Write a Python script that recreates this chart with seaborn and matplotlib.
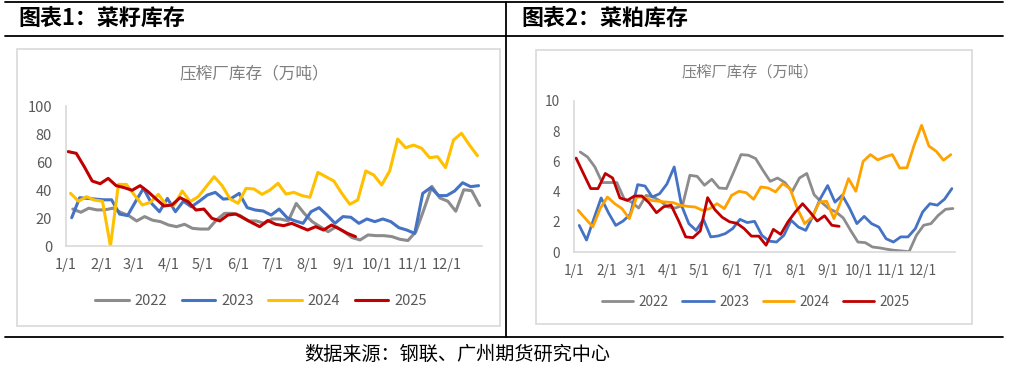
import numpy as np
import pandas as pd
import seaborn as sns
import matplotlib
matplotlib.use("Agg")
import matplotlib.pyplot as plt
from matplotlib.lines import Line2D
from matplotlib.patches import Rectangle

# weekly data (Friday)
years = ["2022", "2023", "2024", "2025"]
first_friday = {"2022": "2022-01-07", "2023": "2023-01-06",
                "2024": "2024-01-05", "2025": "2025-01-03"}

# chart 1: rapeseed stocks at crushers (10k t)
seed_2022 = [26.4, 24.1, 27, 25.8, 25.8, 27, 24, 21.7, 17.9, 21, 18.4, 17.4, 15, 13.8, 15.5,
             12.6, 12.1, 12.1, 18.6, 23.3, 23.3, 21.7, 17.9, 17.9, 16.2,
             19.3, 19.3, 17.9, 30.4, 23.3, 17.4, 13.8, 10.2, 13.8, 10.2, 6, 4.3, 7.9, 7.4,
             7.4, 6.7, 4.8, 3.9, 10.2, 26, 42.6, 34.3, 32, 24.8, 40.2, 39.5, 28.9]
seed_2023 = [20.2, 34.5, 34, 33.5, 33, 33, 22.8, 21.7, 31.7, 41.2, 30.5, 24.5, 34, 24.5, 32,
             28, 32, 36.4, 38.3, 33.5, 34, 37.6, 27.4, 25.7, 25,
             22.1, 26.4, 20.2, 17.9, 16.2, 24.5, 27.4, 22.1, 16.2, 21, 20.5, 16.2, 19.3, 17.4,
             19.3, 17.4, 13.1, 11.4, 9, 37.6, 41.7, 36, 36, 39.3, 45.2, 42.4, 43.1]
seed_2024 = [37.6, 32, 35.2, 32.8, 32, 0, 44, 44, 36.4, 29.3, 31.2, 36.9, 29.3, 29.3, 39.3,
             31.7, 35.2, 42.4, 49.5, 43.1, 33.6, 30.5, 41.2, 40.7, 36.9,
             40, 44.8, 37.1, 38.3, 36, 34.8, 52.6, 49.5, 46.4, 37.6, 29.8, 32.9, 53.6, 50.7,
             43.6, 53.6, 76.4, 70.2, 72.1, 69.8, 63.1, 63.8, 56, 75.7, 80.5, 72.1, 64.5]
seed_2025 = [67.4, 66.2, 56.7, 46.4, 44.5, 48.3, 43.1, 41.7, 39.8, 43.1, 38.8, 33.6, 28.6,
             29.3, 34.5, 31.7, 25.7, 26.4, 19.8, 17.9, 22.1, 22.9, 19.8, 16.7, 13.8, 18.2,
             15.5, 14.5, 16.2, 13.8, 11.4, 13.8, 11.4, 15, 12.1, 9, 6.7]

# chart 2: rapeseed meal stocks at crushers (10k t)
meal_2022 = [6.62, 6.29, 5.63, 4.6, 4.6, 4.6, 3.53, 3.31, 2.91, 3.75, 3.64, 3.36, 2.98,
             2.91, 3.09, 5.08, 5.01, 4.42, 4.82, 4.24, 4.2, 5.3, 6.45, 6.41, 6.19, 5.41,
             4.68, 4.9, 4.6, 4.0, 4.9, 5.2, 3.8, 3.3, 2.88, 2.65, 2.25, 1.43, 0.66, 0.62,
             0.33, 0.27, 0.18, 0.11, 0.07, 0.02, 1.1, 1.77, 1.88, 2.43, 2.83, 2.88]
meal_2023 = [1.76, 0.79, 2.2, 3.58, 2.6, 1.76, 2.05, 2.5, 4.46, 4.37, 3.64, 3.86, 4.5,
             5.63, 3.09, 1.88, 1.43, 2.16, 1.0, 1.06, 1.22, 1.55, 2.16, 1.95, 2.03, 1.1,
             0.72, 0.66, 1.1, 2.1, 1.65, 1.43, 2.4, 3.54, 4.4, 3.3, 3.76, 2.9, 1.88, 2.36,
             1.88, 1.65, 0.88, 0.66, 1.0, 1.0, 1.55, 2.65, 3.2, 3.1, 3.5, 4.2]
meal_2024 = [2.76, 2.21, 1.66, 2.87, 3.64, 3.2, 2.87, 2.21, 3.64, 3.64, 3.42, 3.36, 3.31,
             3.27, 3.09, 3.02, 2.98, 2.76, 2.87, 3.2, 2.87, 3.75, 4.02, 3.93, 3.49, 4.31,
             4.24, 3.98, 4.53, 4.2, 2.87, 1.88, 2.3, 3.31, 3.36, 2.21, 3.42, 4.86, 4.02,
             6.0, 6.45, 6.1, 6.3, 6.45, 5.56, 5.58, 7.1, 8.39, 7.02, 6.67, 6.08, 6.45]
meal_2025 = [6.22, 5.2, 4.2, 4.2, 5.2, 4.9, 3.58, 3.42, 3.71, 3.71, 3.25, 2.6, 3.0, 3.1,
             2.1, 1.0, 0.95, 1.4, 3.6, 2.8, 2.3, 2.0, 1.9, 1.55, 1.05, 1.05, 0.45, 1.5,
             1.17, 2.0, 2.65, 3.2, 2.65, 2.05, 2.4, 1.77, 1.7]

month_starts = [0, 31, 59, 90, 120, 151, 181, 212, 243, 273, 304, 334, 365]
month_labels = ["1/1", "2/1", "3/1", "4/1", "5/1", "6/1", "7/1", "8/1", "9/1",
                "10/1", "11/1", "12/1", ""]

W, H = 1016, 371
TXT = "#595959"
AXC = "#d9d9d9"

sns.set_style("white")
plt.rcParams["font.family"] = ["Noto Sans CJK SC", "DejaVu Sans"]


def to_frame(series):
    parts = []
    for yr, vals in zip(years, series):
        dates = pd.date_range(first_friday[yr], periods=len(vals), freq="7D")
        parts.append(pd.DataFrame({"day": dates.dayofyear - 1, "value": vals, "year": yr}))
    return pd.concat(parts, ignore_index=True)


def fx(px):
    return px / W


def fy(py):
    return 1 - py / H


def hline(x0, x1, y, lw=1.3):
    fig.add_artist(Line2D([fx(x0), fx(x1)], [fy(y), fy(y)], transform=fig.transFigure,
                          color="black", lw=lw))


def vline(x, y0, y1, lw=1.3):
    fig.add_artist(Line2D([fx(x), fx(x)], [fy(y0), fy(y1)], transform=fig.transFigure,
                          color="black", lw=lw))


def draw_panel(box, axbox, series, palette, ymax, ystep, title_px, leg_px, fs, lw):
    x0, y0, x1, y1 = box
    fig.add_artist(Rectangle((fx(x0), fy(y1)), fx(x1) - fx(x0), fy(y0) - fy(y1),
                             transform=fig.transFigure, fill=False, ec=AXC, lw=1.2))
    l, t, r, b = axbox
    ax = fig.add_axes([fx(l), fy(b), fx(r) - fx(l), fy(t) - fy(b)])
    df = to_frame(series)
    sns.lineplot(data=df, x="day", y="value", hue="year", hue_order=years,
                 palette=palette, linewidth=lw, estimator=None, sort=False, ax=ax)
    ax.set_xlim(0, 365)
    ax.set_ylim(0, ymax)
    ax.set_xticks(month_starts)
    ax.set_xticklabels(month_labels)
    ax.set_yticks(np.arange(0, ymax + 0.01, ystep))
    ax.set_xlabel("")
    ax.set_ylabel("")
    for side in ["top", "right"]:
        ax.spines[side].set_visible(False)
    for side in ["left", "bottom"]:
        ax.spines[side].set_color(AXC)
        ax.spines[side].set_linewidth(1.2)
    ax.tick_params(axis="both", colors=AXC, labelcolor=TXT, labelsize=fs,
                   length=4, width=1.0, direction="out")
    ax.tick_params(axis="y", pad=6)
    ax.tick_params(axis="x", pad=5)
    ax.patch.set_alpha(0)
    fig.text(fx(title_px[0]), fy(title_px[1]), "压榨厂库存（万吨）", ha="center", va="center",
             color="#7f7f7f", fontsize=title_px[2])
    sns.move_legend(ax, "center", bbox_to_anchor=(fx(leg_px[0]), fy(leg_px[1])),
                    bbox_transform=fig.transFigure, ncol=4, frameon=False, title=None,
                    fontsize=fs, handlelength=2.3, handletextpad=0.4, columnspacing=1.0,
                    labelcolor=TXT)
    return ax


fig = plt.figure(figsize=(W / 100, H / 100), dpi=100)

# outer frame
hline(5, 1003, 2)
hline(5, 1003, 36)
hline(5, 1003, 337)
vline(506, 2, 337)

fig.text(fx(18), fy(19), "图表1：菜籽库存", ha="left", va="center", fontsize=15.8,
         fontweight="bold", color="black")
fig.text(fx(521), fy(19), "图表2：菜粕库存", ha="left", va="center", fontsize=15.8,
         fontweight="bold", color="black")

draw_panel((17, 49, 500, 326), (66, 106, 482, 246),
           [seed_2022, seed_2023, seed_2024, seed_2025],
           ["#8c8c8c", "#4472c4", "#ffc000", "#c00000"],
           100, 20, (254, 74, 12), (261, 301), 10.5, 2.2)
draw_panel((536, 50, 972, 324), (574, 101, 955, 252),
           [meal_2022, meal_2023, meal_2024, meal_2025],
           ["#8c8c8c", "#4472c4", "#ffa200", "#c00000"],
           10, 2, (750, 72, 11), (756, 302), 9.8, 2.0)

fig.text(fx(457), fy(354), "数据来源：钢联、广州期货研究中心", ha="center", va="center",
         fontsize=13.8, color="black")

fig.savefig("out.png", dpi=100)
